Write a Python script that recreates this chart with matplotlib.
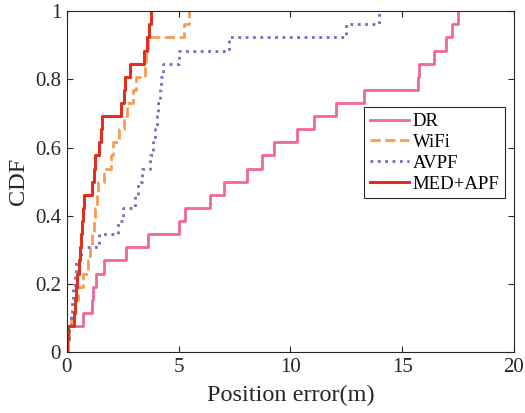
import numpy as np
import matplotlib
matplotlib.use("Agg")
import matplotlib.pyplot as plt

plt.rcParams['font.family'] = ['Liberation Serif', 'DejaVu Serif']
plt.rcParams['mathtext.fontset'] = 'stix'

N = 26
levels = np.arange(0, N + 1) / N

# sorted position errors (m) at which each CDF step k/26 is reached
dr_err = [0.05, 0.08, 0.72, 1.12, 1.17, 1.33, 1.65, 2.64, 3.62, 5.0, 5.3, 6.42,
          7.02, 8.05, 8.73, 9.25, 10.3, 11.05, 12.04, 13.3, 15.72, 15.77, 16.42,
          16.94, 17.24, 17.48]
wifi_err = [0.06, 0.1, 0.2, 0.35, 0.5, 0.72, 0.95, 1.05, 1.12, 1.2, 1.27, 1.35,
            1.42, 1.65, 2.0, 2.06, 2.36, 2.55, 2.7, 2.96, 3.1, 3.5, 3.56, 3.62,
            5.25, 5.45]
avpf_err = [0.02, 0.1, 0.18, 0.25, 0.3, 0.36, 0.43, 0.62, 1.45, 2.3, 2.5, 3.05,
            3.2, 3.35, 3.72, 3.85, 3.95, 4.02, 4.1, 4.17, 4.22, 4.3, 5.0, 7.25,
            12.5, 13.95]
med_err = [0.03, 0.06, 0.33, 0.38, 0.43, 0.48, 0.53, 0.58, 0.63, 0.68, 0.73, 0.78,
           1.15, 1.22, 1.27, 1.45, 1.52, 1.6, 2.45, 2.57, 2.63, 2.85, 3.45, 3.58,
           3.68, 3.78]

series = [
    ("DR", dr_err, '#F2679B', '-', 2.0),
    ("WiFi", wifi_err, '#FA9A55', '--', 2.0),
    ("AVPF", avpf_err, '#6E6EC8', ':', 2.0),
    ("MED+APF", med_err, '#E0301E', '-', 2.2),
]

xticks = [0, 5, 10, 15, 20]
yticks = [0, 0.2, 0.4, 0.6, 0.8, 1]
ytick_labels = ['0', '0.2', '0.4', '0.6', '0.8', '1']

fig = plt.figure(figsize=(5.25, 4.13), dpi=100)
ax = fig.add_axes([0.127, 0.147, 0.852, 0.826])

for name, err, color, ls, lw in series:
    x = np.concatenate([[0.0], np.asarray(err, float)])
    ax.plot(x, levels, drawstyle='steps-post', color=color, linestyle=ls,
            linewidth=lw, label=name)

ax.set_xlim(0, 20)
ax.set_ylim(0, 1)
ax.set_xticks(xticks)
ax.set_xticklabels([str(t) for t in xticks])
ax.set_yticks(yticks)
ax.set_yticklabels(ytick_labels)

dark = '#262626'
for s in ax.spines.values():
    s.set_color(dark)
    s.set_linewidth(0.8)
ax.tick_params(direction='in', length=4, width=0.8, colors=dark, labelsize=15,
               top=True, right=True, pad=4)
ax.set_xlabel('Position error(m)', fontsize=17.5, color=dark, labelpad=6)
ax.set_ylabel('CDF', fontsize=17.5, color=dark, labelpad=4)

leg = ax.legend(loc='upper right', bbox_to_anchor=(0.98, 0.718), borderaxespad=0,
                fontsize=13.5, fancybox=False, framealpha=1, edgecolor=dark,
                handlelength=2.1, handletextpad=0.2, labelspacing=0.2,
                borderpad=0.3)
leg.get_frame().set_linewidth(0.8)

fig.savefig('out.png', dpi=100)
